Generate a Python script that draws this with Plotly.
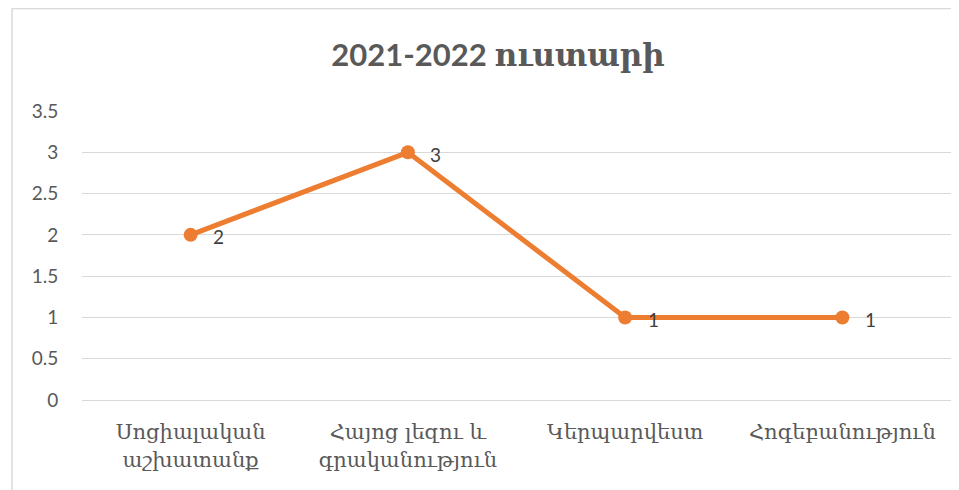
import plotly.graph_objects as go

categories = ["Սոցիալական<br>աշխատանք", "Հայոց լեզու և<br>գրականություն", "Կերպարվեստ", "Հոգեբանություն"]
values = [2, 3, 1, 1]
title_text = "2021-2022 ուստարի"
y_ticks = [0, 0.5, 1, 1.5, 2, 2.5, 3, 3.5]

fig = go.Figure()
fig.add_trace(go.Scatter(
    x=categories, y=values, mode="lines+markers",
    line=dict(color="#ED7D31", width=5),
    marker=dict(color="#ED7D31", size=14),
    cliponaxis=False,
))

annotations = [dict(x=c, y=v, text=str(v), showarrow=False, xshift=28, yshift=-2,
                    font=dict(family="Lato, Open Sans, sans-serif", size=19, color="#404040"))
               for c, v in zip(categories, values)]

fig.update_layout(
    width=959, height=490,
    margin=dict(l=74, r=15.5, t=103, b=98),
    paper_bgcolor="white", plot_bgcolor="white",
    showlegend=False,
    annotations=annotations,
    title=dict(text=f"<b>{title_text}</b>", x=0.511, xanchor="center", y=0.904, yanchor="middle",
               font=dict(family="Lato, DejaVu Serif, serif", size=31, color="#595959")),
    xaxis=dict(showgrid=False, showline=True, linecolor="#d9d9d9", linewidth=1,
               tickfont=dict(family="DejaVu Serif, serif", size=21, color="#595959"),
               ticks="outside", ticklen=13, tickcolor="rgba(0,0,0,0)", range=[-0.5, 3.5]),
    yaxis=dict(range=[0, 3.5], tickvals=y_ticks, ticktext=[f"{t:g}" for t in y_ticks],
               showgrid=True, gridcolor="#d9d9d9", gridwidth=1, zeroline=False,
               tickfont=dict(family="Lato, Open Sans, sans-serif", size=19, color="#595959"),
               ticks="outside", ticklen=19, tickcolor="rgba(0,0,0,0)"),
    shapes=[dict(type="rect", xref="paper", yref="paper",
                 x0=(4 - 74) / 869.5, x1=1.2, y0=-0.5, y1=(392 - 0.5) / 289,
                 line=dict(color="#d9d9d9", width=1.5), layer="below")],
)

fig.write_html("out.html")
